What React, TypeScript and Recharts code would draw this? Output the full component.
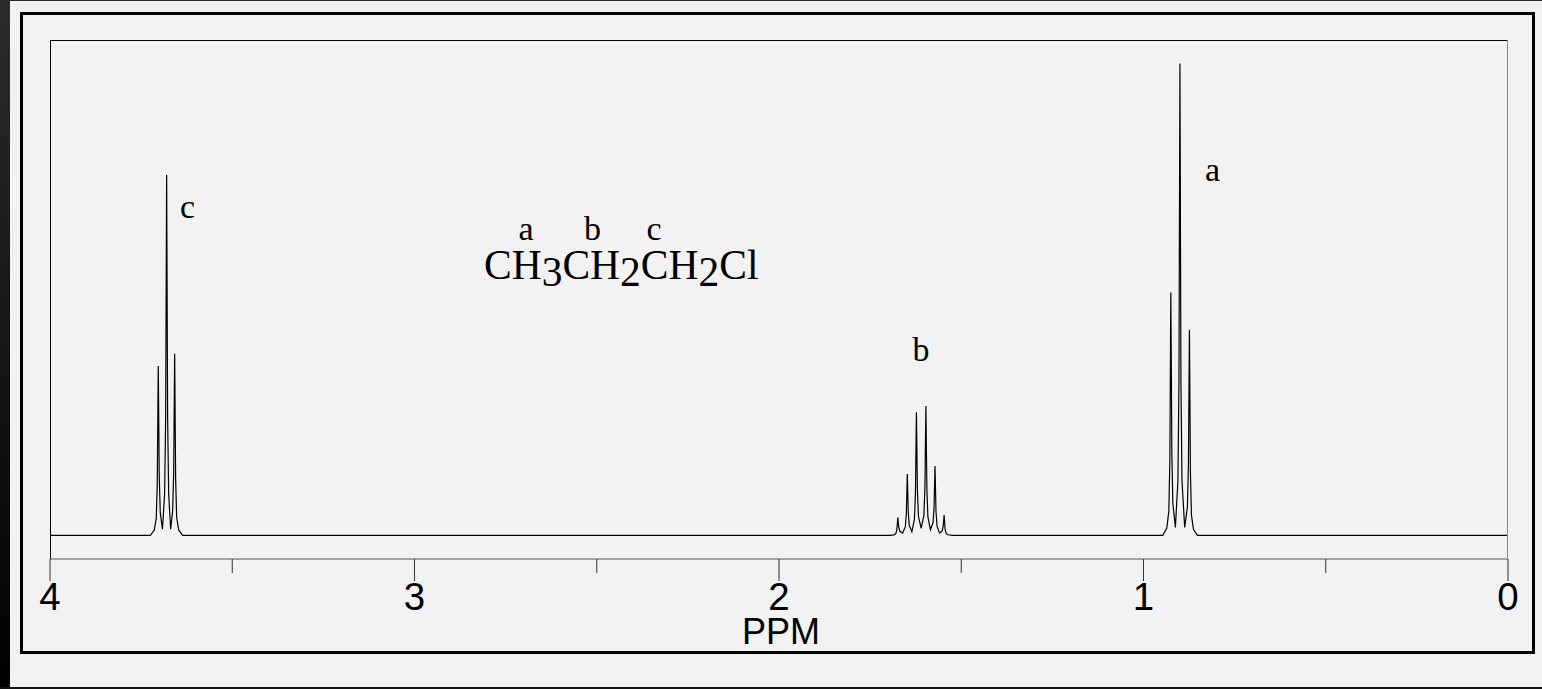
import React from "react";
import { LineChart, Line, XAxis, YAxis } from "recharts";

// ---- data ----
const xTicks = [4, 3.5, 3, 2.5, 2, 1.5, 1, 0.5, 0];
const tickLabels = ["4", "3", "2", "1", "0"];

// multiplet c (CH2Cl) – triplet
const cPpm = [3.703, 3.68, 3.658];
const cInt = [35.9, 76.4, 38.5];
const cValley = [1.3, 1.3];

// multiplet b (CH2) – sextet
const bPpm = [1.674, 1.648, 1.623, 1.597, 1.572, 1.547];
const bInt = [3.8, 13.0, 26.1, 27.4, 14.7, 4.3];
const bValley = [0.5, 0.8, 1.5, 1.2, 0.5];

// multiplet a (CH3) – triplet
const aPpm = [0.925, 0.9, 0.874];
const aInt = [51.5, 100, 43.6];
const aValley = [1.7, 1.7];

// line-shape profile of a single peak (offset in ppm, fraction of height)
const profile: [number, number][] = [
  [0.0055, 0.1],
  [0.0027, 0.31],
];

type Pt = { x: number; i: number };

function multiplet(ppm: number[], ints: number[], valleys: number[]): Pt[] {
  const pts: Pt[] = [];
  const n = ppm.length;
  pts.push({ x: ppm[0] + 0.022, i: 0 });
  pts.push({ x: ppm[0] + 0.011, i: 0.03 * ints[0] });
  ppm.forEach((p, k) => {
    const lf = k === 0 ? 0 : valleys[k - 1];
    const rf = k === n - 1 ? 0 : valleys[k];
    profile.forEach(([o, f]) => pts.push({ x: p + o, i: f * ints[k] + lf }));
    pts.push({ x: p, i: ints[k] });
    [...profile].reverse().forEach(([o, f]) => pts.push({ x: p - o, i: f * ints[k] + rf }));
    if (k < n - 1) pts.push({ x: (p + ppm[k + 1]) / 2, i: valleys[k] });
  });
  pts.push({ x: ppm[n - 1] - 0.011, i: 0.03 * ints[n - 1] });
  pts.push({ x: ppm[n - 1] - 0.022, i: 0 });
  return pts;
}

const spectrum: Pt[] = [
  { x: 4, i: 0 },
  ...multiplet(cPpm, cInt, cValley),
  ...multiplet(bPpm, bInt, bValley),
  ...multiplet(aPpm, aInt, aValley),
  { x: 0, i: 0 },
];

const SANS = "Liberation Sans";
const SERIF = "Liberation Serif";

const Tick = (props: any) => {
  const { x, y, payload } = props;
  const v = payload.value as number;
  const major = Math.abs(v - Math.round(v)) < 1e-6;
  return (
    <g>
      <line x1={x} x2={x} y1={y} y2={y + (major ? 22 : 14)} stroke="#333" strokeWidth={1} />
      {major && (
        <text x={x} y={609.5} textAnchor="middle" fontFamily={SANS} fontSize={38.5} fill="#000">
          {tickLabels[4 - Math.round(v)]}
        </text>
      )}
    </g>
  );
};

const sub = { fontFamily: SERIF, fontSize: 41.5 };

export default function App() {
  return (
    <div
      style={{
        position: "absolute",
        left: 0,
        top: 0,
        width: 1542,
        height: 689,
        background: "#f2f2f2",
        overflow: "hidden",
      }}
    >
      <div style={{ position: "absolute", left: 0, top: 0, width: 10, height: 689, background: "linear-gradient(#2b2b2b, #000)" }} />
      <div style={{ position: "absolute", left: 0, top: 0, width: 1542, height: 1, background: "#2a2a2a" }} />
      <div style={{ position: "absolute", left: 0, top: 687, width: 1542, height: 2, background: "#111" }} />
      <div
        style={{
          position: "absolute",
          left: 20,
          top: 12,
          width: 1515,
          height: 642,
          boxSizing: "border-box",
          border: "3.5px solid #000",
        }}
      />
      <div style={{ position: "absolute", left: 0, top: 0 }}>
        <LineChart width={1542} height={689} data={spectrum} margin={{ top: 40, right: 34, bottom: 70, left: 50 }}>
          <XAxis
            dataKey="x"
            type="number"
            domain={[0, 4]}
            reversed
            ticks={xTicks}
            interval={0}
            height={60}
            tickSize={0}
            tickMargin={0}
            tickLine={false}
            axisLine={{ stroke: "#555", strokeWidth: 1 }}
            tick={<Tick />}
            allowDataOverflow
          />
          <YAxis type="number" domain={[-5, 105]} hide allowDataOverflow />
          <Line
            type="linear"
            dataKey="i"
            stroke="#000"
            strokeWidth={1.2}
            dot={false}
            activeDot={false}
            isAnimationActive={false}
          />
        </LineChart>
      </div>
      <svg width={1542} height={689} style={{ position: "absolute", left: 0, top: 0, pointerEvents: "none" }}>
        <line x1={50} x2={1508} y1={40.5} y2={40.5} stroke="#000" strokeWidth={1} />
        <line x1={50.5} x2={50.5} y1={40} y2={559} stroke="#000" strokeWidth={1} />
        <line x1={1507.5} x2={1507.5} y1={40} y2={559} stroke="#888" strokeWidth={1} />
        <text x={781} y={644} textAnchor="middle" fontFamily={SANS} fontSize={36} fill="#000">
          PPM
        </text>
        <text x={187.5} y={217.5} textAnchor="middle" fontFamily={SERIF} fontSize={34} fill="#000">c</text>
        <text x={921} y={361} textAnchor="middle" fontFamily={SERIF} fontSize={34} fill="#000">b</text>
        <text x={1212.5} y={181} textAnchor="middle" fontFamily={SERIF} fontSize={34} fill="#000">a</text>
        <text x={526} y={239.5} textAnchor="middle" fontFamily={SERIF} fontSize={34} fill="#000">a</text>
        <text x={592.5} y={239.5} textAnchor="middle" fontFamily={SERIF} fontSize={34} fill="#000">b</text>
        <text x={654} y={239.5} textAnchor="middle" fontFamily={SERIF} fontSize={34} fill="#000">c</text>
        <text x={484} y={278.5} style={sub} fill="#000">
          <tspan style={sub}>CH</tspan>
          <tspan style={sub} dy={7}>3</tspan>
          <tspan style={sub} dy={-7}>CH</tspan>
          <tspan style={sub} dy={7}>2</tspan>
          <tspan style={sub} dy={-7}>CH</tspan>
          <tspan style={sub} dy={7}>2</tspan>
          <tspan style={sub} dy={-7}>Cl</tspan>
        </text>
      </svg>
    </div>
  );
}
